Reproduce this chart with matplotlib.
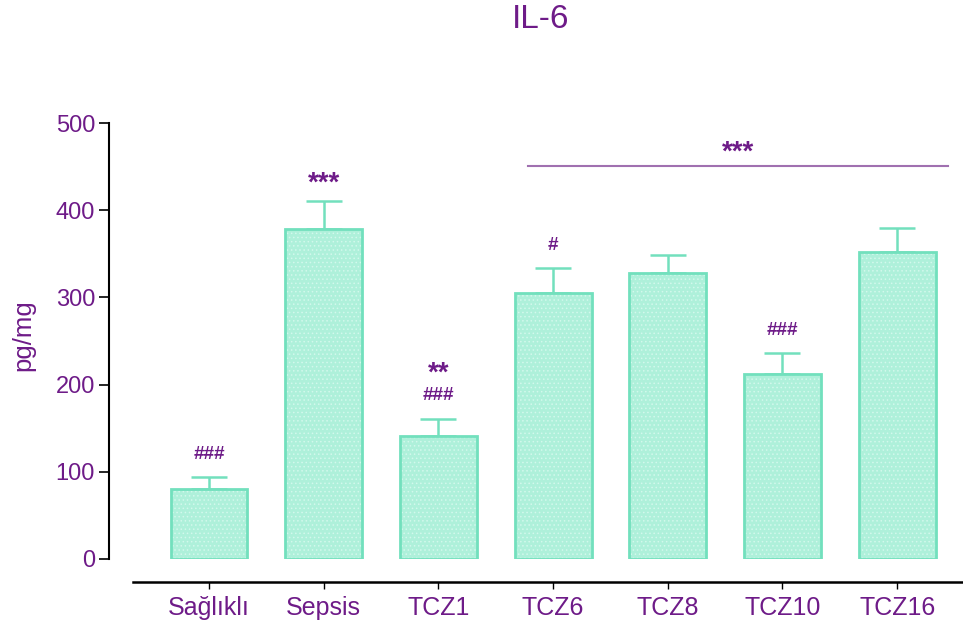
import matplotlib
matplotlib.use("Agg")
import matplotlib.pyplot as plt
import numpy as np

categories = ["Sağlıklı", "Sepsis", "TCZ1", "TCZ6", "TCZ8", "TCZ10", "TCZ16"]
means = [80, 378, 141, 305, 328, 212, 352]
errors = [14, 32, 20, 29, 21, 24, 28]
hash_marks = ["###", "", "###", "#", "", "###", ""]
star_marks = ["", "***", "**", "", "", "", ""]
yticks = [0, 100, 200, 300, 400, 500]

purple = "#6e1b88"
fill = "#aef0da"
edge = "#72e0bd"

plt.rcParams['font.family'] = ['Liberation Sans', 'DejaVu Sans']
plt.rcParams['hatch.linewidth'] = 0.6

fig = plt.figure(figsize=(9.63, 6.28), dpi=100)
ax = fig.add_axes([109 / 963, 0.1099, 1 - 109 / 963, 0.6942])

x = np.arange(len(categories))
ax.bar(x, means, width=0.67, color=fill, edgecolor="#d2f8ec", hatch="....", linewidth=0, zorder=2)
ax.bar(x, means, width=0.67, facecolor="none", edgecolor=edge, linewidth=2, zorder=3)
ax.errorbar(x, means, yerr=[np.zeros(len(means)), errors], fmt="none", ecolor=edge,
            elinewidth=1.8, capsize=13, capthick=1.8, zorder=1)

for i in range(len(categories)):
    top = means[i] + errors[i]
    if hash_marks[i]:
        ax.text(x[i], top + 26, hash_marks[i], ha="center", va="center", color=purple,
                fontsize=13.5, fontweight="bold")
    if star_marks[i]:
        off = 52 if hash_marks[i] else 20
        ax.text(x[i], top + off, star_marks[i], ha="center", va="center", color=purple,
                fontsize=20, fontweight="bold")

# significance bar
ax.plot([2.78, 6.44], [451, 451], color="#a070b0", lw=1.5, clip_on=False)
ax.text((2.78 + 6.44) / 2, 466, "***", ha="center", va="center", color=purple,
        fontsize=20, fontweight="bold")

ax.set_xlim(-0.872, 6.574)
ax.set_ylim(0, 500)
ax.set_yticks(yticks)
ax.set_xticks(x)
ax.set_xticklabels(categories)

for s in ["top", "right"]:
    ax.spines[s].set_visible(False)
ax.spines["left"].set_linewidth(1.5)
ax.spines["bottom"].set_linewidth(1.8)
ax.spines["bottom"].set_position(("outward", 16.6))
ax.spines["bottom"].set_bounds(-0.663, 6.574)
ax.tick_params(axis="y", length=7, width=1.2, labelsize=17, labelcolor=purple, pad=3)
ax.tick_params(axis="x", length=5, width=1.0, labelsize=18, labelcolor=purple, pad=5)

fig.text(23 / 963, 1 - 335 / 628, "pg/mg", rotation=90, ha="center", va="center",
         fontsize=18.5, color=purple)
fig.text(541 / 963, 1 - 20 / 628, "IL-6", ha="center", va="center", fontsize=24, color=purple)

fig.savefig("out.png", dpi=100)
